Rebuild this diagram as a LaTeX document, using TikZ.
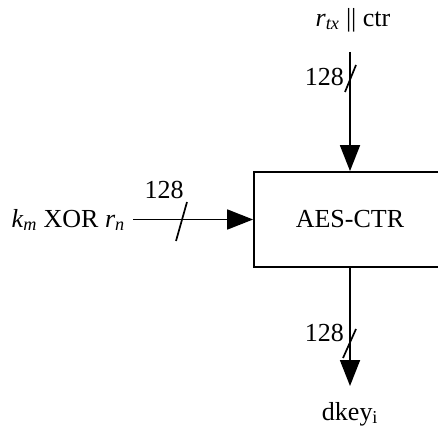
\documentclass[tikz,border=0pt]{standalone}
\usepackage{fontspec}
\setmainfont{Liberation Serif}
\usetikzlibrary{arrows.meta}
\tikzset{
  conn/.style={line width=1.8pt},
  arr/.style={conn, -{Triangle[length=26pt 0 0,width=20pt 0 0]}},
  slashmark/.style={line width=1.7pt},
  lbl/.style={inner sep=0pt, font=\fontsize{26}{30}\selectfont},
  blk/.style={draw, line width=1.8pt, minimum width=192pt, minimum height=95pt, inner sep=0pt, font=\fontsize{26}{30}\selectfont}
}
\begin{document}
\begin{tikzpicture}[x=1pt,y=-1pt]
\useasboundingbox (0,0) rectangle (438,430);
\clip (0,0) rectangle (438,430);
% block
\node[blk] (aes) at (350,219.5) {AES-CTR};
% top input
\node[lbl] (top) at (353,20) {\textit{r}\textsubscript{\textit{tx}} || ctr};
\coordinate (topstart) at (350,52);
\draw[arr] (topstart) -- (aes.north);
\coordinate (ts1) at (345,92);
\coordinate (ts2) at (356,65);
\draw[slashmark] (ts1) -- (ts2);
\node[lbl, anchor=east] (t128) at (344,77) {128};
% left input
\node[lbl, anchor=east] (kin) at (125,220) {\textit{k}\textsubscript{\textit{m}} XOR \textit{r}\textsubscript{\textit{n}}};
\coordinate (kstart) at (133,219.5);
\draw[arr] (kstart) -- (aes.west);
\coordinate (ls1) at (176,241);
\coordinate (ls2) at (187,202);
\draw[slashmark] (ls1) -- (ls2);
\node[lbl] (l128) at (164,190) {128};
% output
\node[lbl] (dkey) at (350,414) {dkey\textsubscript{i}};
\coordinate (dend) at (350,386);
\draw[arr] (aes.south) -- (dend);
\coordinate (bs1) at (343,358);
\coordinate (bs2) at (356,329);
\draw[slashmark] (bs1) -- (bs2);
\node[lbl, anchor=east] (b128) at (344,333) {128};
\end{tikzpicture}
\end{document}
